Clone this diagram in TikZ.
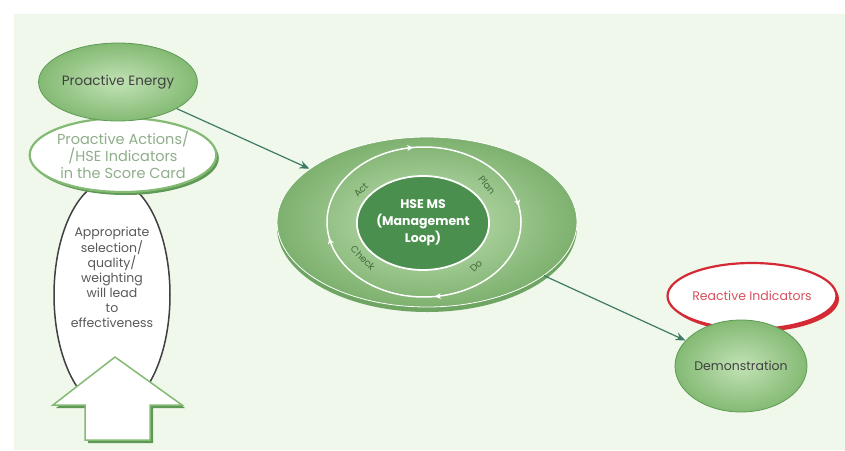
\documentclass[tikz,border=0pt]{standalone}
\usepackage{fontspec}
\setmainfont{Poppins}
\usetikzlibrary{positioning,shapes.geometric,arrows.meta,shadows,decorations.markings}
\definecolor{bggreen}{HTML}{EFF8EA}
\definecolor{leafgreen}{HTML}{84BA74}
\definecolor{palegreen}{HTML}{C2E2B5}
\definecolor{edgegreen}{HTML}{5E9A55}
\definecolor{darkgreen}{HTML}{4A8F4E}
\definecolor{diskshade}{HTML}{6FA563}
\definecolor{tealarrow}{HTML}{3F7A66}
\definecolor{redrim}{HTML}{D42A35}
\definecolor{redtext}{HTML}{D9505E}
\definecolor{mossgray}{HTML}{8FAE8A}
\tikzstyle{bubble} = [ellipse, inner sep=0pt, draw=edgegreen, line width=0.8pt, inner color=palegreen, outer color=leafgreen, text=black!75]
\tikzstyle{rimmed} = [ellipse, inner sep=0pt, fill=white, line width=2.2pt, align=center]
\tikzstyle{tallbox} = [ellipse, inner sep=0pt, fill=white, draw=black!75, line width=1.5pt, minimum width=116pt, minimum height=230pt]
\tikzstyle{looptag} = [inner sep=1pt, text=edgegreen!70!black, font=\fontsize{9.5}{11}\selectfont]
\tikzstyle{ringline} = [draw=white, line width=1.5pt, postaction=decorate, decoration={markings,
  mark=at position 0.03 with {\arrowreversed{Stealth[length=6pt,width=6pt]}},
  mark=at position 0.27 with {\arrowreversed{Stealth[length=6pt,width=6pt]}},
  mark=at position 0.53 with {\arrowreversed{Stealth[length=6pt,width=6pt]}},
  mark=at position 0.77 with {\arrowreversed{Stealth[length=6pt,width=6pt]}}}]
\tikzstyle{connect} = [line width=1.2pt, tealarrow, -{Stealth[length=10pt,width=8pt]}]

\begin{document}
\begin{tikzpicture}[x=1pt,y=-1pt]
\fill[white] (0,0) rectangle (845,450);
\fill[bggreen] (14,14) rectangle (845,450);

\node (sel) [tallbox] at (112,295) {};
\node (seltext) [align=center, text=black!65, font=\fontsize{12.5}{15}\selectfont] at (112,277)
  {Appropriate\\selection/\\quality/\\weighting\\will lead\\to\\effectiveness};

\fill[edgegreen] (56,408) -- (118,360) -- (185,408) -- (153,408) -- (153,443) -- (88,443) -- (88,408) -- cycle;
\draw[fill=white, draw=leafgreen, line width=1.5pt] (53,405) -- (115,357) -- (182,405) -- (150,405) -- (150,440) -- (85,440) -- (85,405) -- cycle;

\node (pa) [rimmed, draw=leafgreen, text=mossgray, minimum width=180pt, minimum height=74pt,
  general shadow={fill=edgegreen, shadow xshift=2.5pt, shadow yshift=-3pt},
  font=\fontsize{14.5}{17}\selectfont] at (123,155) {Proactive Actions/\\/HSE Indicators\\in the Score Card};
\node (pe) [bubble, minimum width=132pt, minimum height=78pt, font=\fontsize{13.5}{15}\selectfont] at (118,82) {Proactive Energy};

\node (disk) [ellipse, minimum width=300pt, minimum height=170pt, inner sep=0pt, draw=white, line width=0.8pt,
  inner color=palegreen, outer color=leafgreen!95!black,
  general shadow={fill=diskshade, shadow yshift=-5pt}] at (427,222) {};
\draw[ringline] (424,222) ellipse [x radius=97pt, y radius=75pt];
\node (hse) [ellipse, minimum width=108pt, minimum height=94pt, inner sep=0pt, fill=darkgreen, draw=white,
  line width=1.8pt, text=white, align=center, font=\bfseries\fontsize{12.5}{17}\selectfont] at (423,223)
  {HSE MS\\(Management\\Loop)};
\node (act) [looptag, rotate=45] at (361,190) {Act};
\node (plan) [looptag, rotate=-50] at (487,185) {Plan};
\node (check) [looptag, rotate=-45] at (363,258) {Check};
\node (do) [looptag, rotate=45] at (476,266) {Do};

\node (react) [rimmed, draw=redrim, text=redtext, minimum width=160pt, minimum height=66pt,
  general shadow={fill=redrim, shadow xshift=2.5pt, shadow yshift=-3pt},
  font=\fontsize{12.5}{14}\selectfont] at (752,296) {Reactive Indicators};
\node (demo) [bubble, minimum width=132pt, minimum height=92pt, font=\fontsize{12.5}{14}\selectfont] at (741,366) {Demonstration};

\draw [connect] (pe) -- (disk);
\draw [connect] (disk) -- (demo);
\end{tikzpicture}
\end{document}
